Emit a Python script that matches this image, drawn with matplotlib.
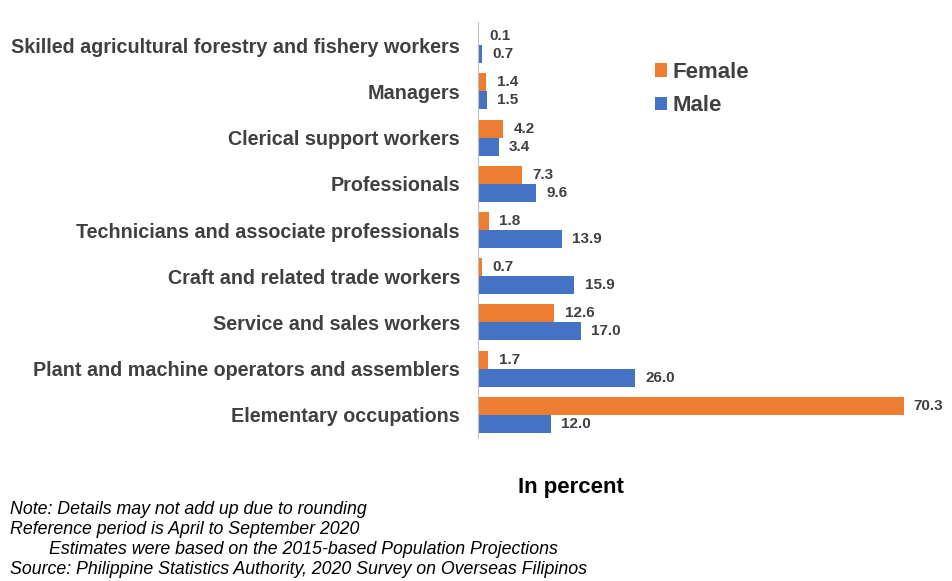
import matplotlib.pyplot as plt
import numpy as np

categories = ["Skilled agricultural forestry and fishery workers", "Managers",
              "Clerical support workers", "Professionals",
              "Technicians and associate professionals", "Craft and related trade workers",
              "Service and sales workers", "Plant and machine operators and assemblers",
              "Elementary occupations"]
female = [0.1, 1.4, 4.2, 7.3, 1.8, 0.7, 12.6, 1.7, 70.3]
male = [0.7, 1.5, 3.4, 9.6, 13.9, 15.9, 17.0, 26.0, 12.0]

notes = ["Note: Details may not add up due to rounding",
         "Reference period is April to September 2020",
         "        Estimates were based on the 2015-based Population Projections",
         "Source: Philippine Statistics Authority, 2020 Survey on Overseas Filipinos"]

plt.rcParams['font.family'] = ['Liberation Sans', 'DejaVu Sans']
orange = "#ED7D31"
blue = "#4472C4"
grey = "#404040"

fig = plt.figure(figsize=(9.53, 5.81), dpi=100)
ax = fig.add_axes([0.5016, 0.2461, 0.4795, 0.716])

y = np.arange(len(categories))
h = 0.39
bf = ax.barh(y - h / 2, female, height=h, color=orange, label="Female")
bm = ax.barh(y + h / 2, male, height=h, color=blue, label="Male")

for bars, vals in ((bf, female), (bm, male)):
    for b, v in zip(bars, vals):
        ax.text(v + 1.7, b.get_y() + b.get_height() / 2, f"{v:.1f}",
                va="center", ha="left", fontsize=11, fontweight="bold", color=grey)

ax.set_xlim(0, 75.5)
ax.set_ylim(8.5, -0.5)
ax.set_yticks(y)
ax.set_yticklabels(categories, fontsize=14.2, fontweight="bold", color=grey)
ax.tick_params(axis="y", length=0, pad=13)
ax.set_xticks([])
for s in ("top", "right", "bottom"):
    ax.spines[s].set_visible(False)
ax.spines["left"].set_color("#BFBFBF")

leg = ax.legend(loc="upper left", bbox_to_anchor=(0.343, 0.952), frameon=False,
                handlelength=0.55, handleheight=0.55, handletextpad=0.25,
                labelspacing=0.55, prop={"size": 16, "weight": "bold"})
for t in leg.get_texts():
    t.set_color(grey)

fig.text(571 / 953, 1 - 488 / 581, "In percent", ha="center", va="center",
         fontsize=16, fontweight="bold", color="black")
for i, line in enumerate(notes):
    fig.text(10 / 953, 1 - (509 + i * 20.3) / 581, line, ha="left", va="center",
             fontsize=12.8, style="italic", color="black")

fig.savefig("out.png", dpi=100)
